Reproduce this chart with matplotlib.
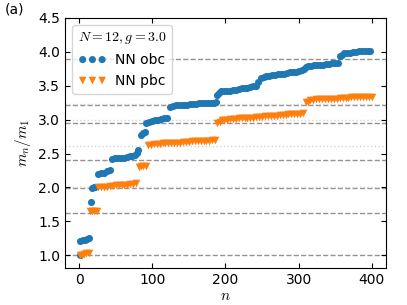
import matplotlib.pyplot as plt

plt.rcParams['mathtext.fontset'] = 'cm'

# E8 mass ratios (dashed) and sums of masses (dotted)
e8_lines = [1.0, 1.618, 1.989, 2.405, 2.956, 3.218, 3.891]
sum_lines = [2.0, 2.618, 2.989, 3.236]

# NN obc
n_obc = [1, 2, 5, 8, 11, 14, 16, 18, 20, 22,
         26, 30, 34, 38, 42,
         45, 49, 53, 57, 61, 65, 69, 73, 77, 79, 81,
         84, 87, 90,
         92, 96, 100, 104, 108, 112, 116, 120,
         124, 128, 132, 136, 140, 144, 148, 152, 156, 160, 164, 168, 172, 176, 180, 184, 187,
         189, 191, 194, 198, 202, 206, 210, 214, 218, 222, 226, 230, 234, 238, 242,
         245, 248, 252, 256, 260, 264, 268, 272, 276, 280, 284, 288, 292, 296, 300, 304,
         307, 310, 313, 317, 321, 325, 329, 333, 337, 341, 345, 349, 353,
         356, 359, 362, 366, 370, 374, 378, 382, 386, 390, 394, 398]
obc = [1.00, 1.21, 1.22, 1.23, 1.24, 1.25, 1.78, 1.99, 2.00, 2.00,
       2.20, 2.21, 2.22, 2.24, 2.25,
       2.42, 2.43, 2.43, 2.44, 2.44, 2.45, 2.46, 2.46, 2.48, 2.51, 2.55,
       2.78, 2.80, 2.82,
       2.95, 2.97, 2.98, 2.99, 3.00, 3.01, 3.02, 3.03,
       3.18, 3.20, 3.21, 3.21, 3.22, 3.22, 3.22, 3.23, 3.23, 3.23, 3.24, 3.24, 3.24, 3.25, 3.25, 3.25, 3.26,
       3.36, 3.40, 3.42, 3.42, 3.43, 3.43, 3.44, 3.44, 3.45, 3.46, 3.46, 3.47, 3.48, 3.49, 3.50,
       3.55, 3.61, 3.63, 3.64, 3.65, 3.66, 3.66, 3.67, 3.68, 3.68, 3.69, 3.70, 3.70, 3.71, 3.72, 3.73,
       3.75, 3.78, 3.79, 3.79, 3.80, 3.80, 3.81, 3.81, 3.82, 3.82, 3.83, 3.83, 3.84,
       3.94, 3.96, 3.98, 3.99, 3.99, 4.00, 4.00, 4.01, 4.01, 4.01, 4.02, 4.02]

# NN pbc
n_pbc = [1, 4, 7, 10, 13, 15, 18, 21, 24,
         26, 30, 34, 38, 42, 46, 50, 54, 58, 62, 66, 70, 74, 78,
         82, 85, 88, 91,
         94, 98, 102, 106, 110, 114, 118, 122, 126, 130, 134, 138, 142, 146, 150, 154,
         158, 162, 166, 170, 174, 178, 182, 186,
         189, 192, 195,
         198, 202, 206, 210, 214, 218, 222, 226, 230, 234, 238, 242, 246, 250, 254, 258,
         262, 266, 270, 274, 278, 282, 286, 290, 294, 298, 302, 306,
         310, 313, 316,
         320, 324, 328, 332, 336, 340, 344, 348, 352, 356, 360, 364, 368, 372, 376, 380,
         384, 388, 392, 396, 400]
pbc = [1.00, 1.01, 1.02, 1.03, 1.04, 1.65, 1.65, 1.65, 1.65,
       2.00, 2.00, 2.01, 2.01, 2.02, 2.02, 2.03, 2.03, 2.03, 2.04, 2.04, 2.05, 2.05, 2.06,
       2.30, 2.31, 2.31, 2.31,
       2.63, 2.63, 2.64, 2.64, 2.64, 2.65, 2.65, 2.65, 2.66, 2.66, 2.66, 2.66, 2.67, 2.67, 2.67, 2.68,
       2.68, 2.68, 2.68, 2.69, 2.69, 2.69, 2.70, 2.70,
       2.95, 2.96, 2.99,
       3.00, 3.00, 3.01, 3.01, 3.01, 3.02, 3.02, 3.02, 3.03, 3.03, 3.03, 3.04, 3.04, 3.04, 3.05, 3.05,
       3.06, 3.06, 3.06, 3.07, 3.07, 3.07, 3.08, 3.08, 3.08, 3.09, 3.09, 3.10,
       3.26, 3.26, 3.29,
       3.29, 3.30, 3.30, 3.30, 3.30, 3.31, 3.31, 3.31, 3.31, 3.32, 3.32, 3.32, 3.32, 3.33, 3.33, 3.33,
       3.33, 3.34, 3.34, 3.34, 3.34]

fig = plt.figure(figsize=(4.07, 3.05), dpi=100)
ax = fig.add_axes([0.16, 0.121, 0.788, 0.82])

for v in e8_lines:
    ax.axhline(v, color='gray', linestyle='--', linewidth=1.0, alpha=0.85, zorder=1)
for v in sum_lines:
    ax.axhline(v, color='lightgray', linestyle=':', linewidth=1.0, zorder=1)

ax.scatter(n_obc, obc, s=26, marker='o', color='#1f77b4', linewidths=0, label='NN obc', zorder=2)
ax.scatter(n_pbc, pbc, s=30, marker='v', color='#ff7f0e', linewidths=0, label='NN pbc', zorder=3)

ax.set_xlim(-19, 419)
ax.set_ylim(0.81, 4.5)
ax.set_xticks([0, 100, 200, 300, 400])
ax.set_yticks([1.0, 1.5, 2.0, 2.5, 3.0, 3.5, 4.0, 4.5])
ax.tick_params(direction='in', top=True, right=True, labelsize=10)

ax.set_xlabel('$n$', fontsize=11, labelpad=1)
ax.set_ylabel('$m_n/m_1$', fontsize=11)

ax.legend(loc='upper left', title='$N=12, g=3.0$', fontsize=10, title_fontsize=10,
          scatterpoints=3, scatteryoffsets=[0.5], handletextpad=0.6)

fig.text(0.012, 0.955, '(a)', fontsize=10)

plt.savefig('out.png', dpi=100)
